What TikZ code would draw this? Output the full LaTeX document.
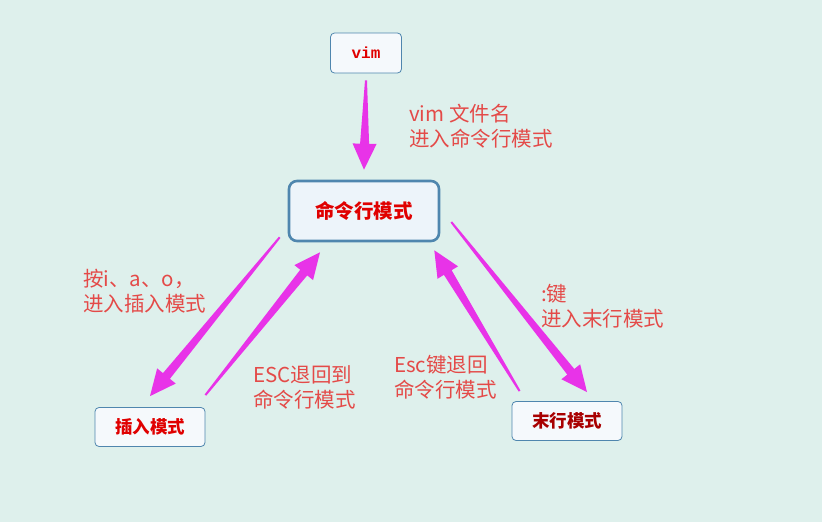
\documentclass[tikz,border=0pt]{standalone}
\usepackage{fontspec}
\newfontfamily\cjk{Noto Sans CJK SC}
\newfontfamily\vimmono{Liberation Mono}
\usetikzlibrary{calc, positioning}
\definecolor{BgMint}{HTML}{DEF0EC}
\definecolor{BoxBlue}{HTML}{4F86AE}
\definecolor{BoxFill}{HTML}{F5F9FC}
\definecolor{CmdFill}{HTML}{EDF4FA}
\definecolor{ArrowMagenta}{HTML}{E833E8}
\definecolor{LabelRed}{HTML}{E44A48}
\definecolor{ModeRed}{HTML}{E00000}
\definecolor{ModeDark}{HTML}{A80000}
\tikzset{
    % boxes for the vim modes
    mode box/.style={
        rectangle,
        rounded corners=4pt,
        draw=BoxBlue,
        fill=BoxFill,
        line width=0.8pt,
        minimum width=110pt,
        minimum height=39pt,
        text=ModeRed,
        font=\cjk\bfseries\fontsize{17.5}{20}\selectfont
    },
    cmd box/.style={
        mode box,
        rounded corners=8pt,
        fill=CmdFill,
        line width=2.6pt,
        minimum width=150pt,
        minimum height=60pt,
        font=\cjk\bfseries\fontsize{19.5}{22}\selectfont
    },
    label text/.style={
        anchor=north west,
        align=left,
        inner sep=0pt,
        text=LabelRed,
        font=\cjk\fontsize{20.5}{25}\selectfont
    },
    arrow fill/.style={
        fill=ArrowMagenta
    }
}
% tapered arrow: thin tail at #1, head at #2
\newcommand\taperarrow[2]{%
    \coordinate (ta) at #1;
    \coordinate (tb) at #2;
    \coordinate (tn) at ($(tb)!26pt!(ta)$);
    \fill[arrow fill] ($(ta)!1pt!90:(tb)$) -- ($(tn)!4.5pt!-90:(ta)$)
        -- ($(tn)!12pt!-90:(ta)$) -- (tb) -- ($(tn)!12pt!90:(ta)$)
        -- ($(tn)!4.5pt!90:(ta)$) -- ($(ta)!1pt!-90:(tb)$) -- cycle;
}
\begin{document}
\begin{tikzpicture}[x=1pt, y=-1pt]
    % background
    \fill[BgMint] (0,0) rectangle (822,522);
    \useasboundingbox (0,0) rectangle (822,522);

    % modes
    \node[mode box, minimum width=71pt, minimum height=40pt, font=\vimmono\bfseries\fontsize{16}{18}\selectfont] (vim) at (366,53) {vim};
    \node[cmd box] (cmd) at (364,211) {命令行模式};
    \node[mode box] (ins) at (150,427) {插入模式};
    \node[mode box, text=ModeDark] (last) at (567,421) {末行模式};

    % arrows
    \taperarrow{([yshift=-7pt]vim.south)}{([yshift=10pt]cmd.north)}
    \taperarrow{([shift={(-8pt,5pt)}]cmd.south west)}{([yshift=11pt]ins.north)}
    \taperarrow{([yshift=12pt]ins.north east)}{([shift={(-44pt,-10pt)}]cmd.south)}
    \taperarrow{([shift={(8pt,10pt)}]last.north west)}{([shift={(-6pt,-8pt)}]cmd.south east)}
    \taperarrow{([shift={(11pt,-11pt)}]cmd.east)}{([shift={(20pt,9pt)}]last.north)}

    % labels
    \node[label text] (lvim) at (409,104) {vim 文件名\\进入命令行模式};
    \node[label text] (lins) at (83,269) {按i、a、o，\\进入插入模式};
    \node[label text] (lesc) at (253,365) {ESC退回到\\命令行模式};
    \node[label text] (lback) at (394,355) {Esc键退回\\命令行模式};
    \node[label text] (llast) at (541,284) {:键\\进入末行模式};
\end{tikzpicture}
\end{document}
